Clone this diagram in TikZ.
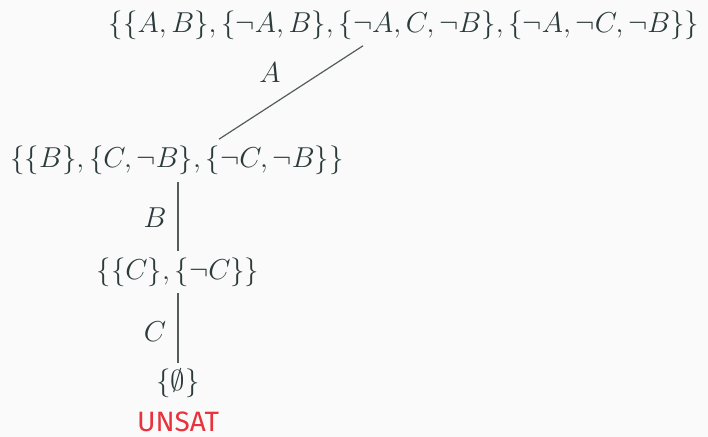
\documentclass[tikz,border=0pt]{standalone}
\usepackage{fontspec}
\newfontfamily\unsatfont{Fira Sans}
\definecolor{ink}{HTML}{2B3A3A}
\definecolor{edge}{HTML}{555C5C}
\definecolor{bad}{HTML}{E8323C}
\definecolor{paper}{HTML}{FAFAFA}

\begin{document}
\begin{tikzpicture}[x=0.5pt,y=-0.5pt,
    every node/.style={text=ink,font=\fontsize{14}{16}\selectfont,inner sep=0pt},
    branch/.style={draw=edge,line width=0.6pt}]
  \fill[paper] (0,0) rectangle (708,437);
  \useasboundingbox (0,0) rectangle (708,437);
  % clause sets
  \node (s0) at (404,25) {$\{\{A,B\},\{\neg A,B\},\{\neg A,C,\neg B\},\{\neg A,\neg C,\neg B\}\}$};
  \node (s1) at (177,160) {$\{\{B\},\{C,\neg B\},\{\neg C,\neg B\}\}$};
  \node (s2) at (178,272) {$\{\{C\},\{\neg C\}\}$};
  \node (s3) at (178,383) {$\{\emptyset\}$};
  \node (res) at (178,422) {\unsatfont\color{bad}UNSAT};
  % branches
  \draw[branch] ([xshift=-41*0.5pt,yshift=-6*0.5pt]s0.south) -- ([xshift=42*0.5pt,yshift=6*0.5pt]s1.north);
  \draw[branch] ([xshift=0.5pt,yshift=-7*0.5pt]s1.south) -- ([yshift=6*0.5pt]s2.north);
  \draw[branch] ([yshift=-6*0.5pt]s2.south) -- ([yshift=5*0.5pt]s3.north);
  \node (la) at (270,73) {$A$};
  \node (lb) at (155,218) {$B$};
  \node (lc) at (155,332) {$C$};
\end{tikzpicture}
\end{document}
